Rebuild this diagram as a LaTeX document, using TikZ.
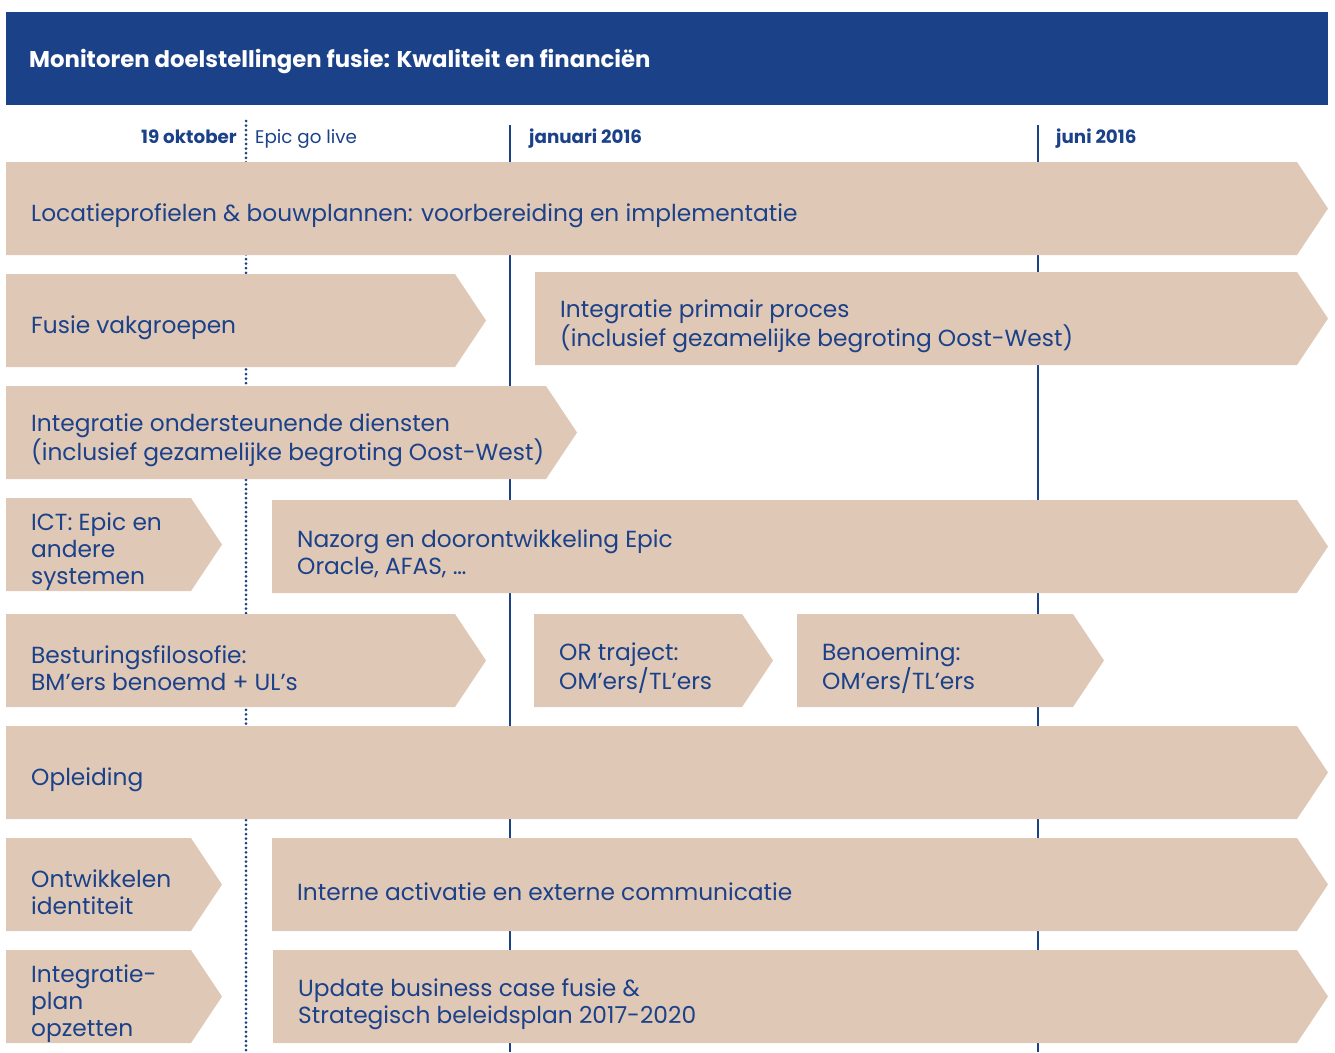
\documentclass[tikz,border=0pt]{standalone}
\usepackage{fontspec}
\setmainfont{Poppins}
\definecolor{navy}{HTML}{1B4189}
\definecolor{sand}{HTML}{E0C8B7}
\newcommand\stagebar[5]{%
  \fill[sand] (#2,#4) -- (#3-31,#4) -- (#3,#4+46.5) -- (#3-31,#4+93) -- (#2,#4+93) -- cycle;
  \node[lbl] (#1) at (#2+25,#4+54) {#5};
}
\tikzset{
  lbl/.style={anchor=west, inner sep=0pt, align=left, text=navy,
    font=\fontsize{23.3}{27}\selectfont},
  datelbl/.style={inner sep=0pt, text=navy, font=\fontsize{18.3}{21}\selectfont},
  datebold/.style={datelbl, font=\fontsize{18.3}{21}\selectfont\bfseries},
  milestone/.style={draw=navy, line width=2.6pt},
  golive/.style={draw=navy, line width=3pt, line cap=round, dash pattern=on 0pt off 4.6pt}
}
\begin{document}
\begin{tikzpicture}[x=1pt,y=-1pt]
\useasboundingbox (0,0) rectangle (1335,1052);
% header band
\fill[navy] (6,12) rectangle (1328,105);
\node[anchor=west, inner sep=0pt, text=white, font=\fontsize{22.8}{26}\selectfont\bfseries] (title) at (29,62) {Monitoren doelstellingen fusie: Kwaliteit en financiën};
% time markers
\coordinate (okt top) at (246,121);
\coordinate (okt bot) at (246,1052);
\coordinate (jan top) at (510,125);
\coordinate (jan bot) at (510,1052);
\coordinate (jun top) at (1038,125);
\coordinate (jun bot) at (1038,1052);
\draw[golive] (okt top) -- (okt bot);
\draw[milestone] (jan top) -- (jan bot);
\draw[milestone] (jun top) -- (jun bot);
\node[datebold, anchor=base east] (d1) at (237,143.5) {19 oktober};
\node[datelbl, anchor=base west] (d1b) at (255,143.5) {Epic go live};
\node[datebold, anchor=base west] (d2) at (529,143.5) {januari 2016};
\node[datebold, anchor=base west] (d3) at (1056,143.5) {juni 2016};
% rows
\stagebar{loc}{6}{1328}{162}{Locatieprofielen \& bouwplannen: voorbereiding en implementatie}
\stagebar{vak}{6}{486}{274}{Fusie vakgroepen}
\stagebar{prim}{535}{1328}{272}{Integratie primair proces\\(inclusief gezamelijke begroting Oost-West)}
\stagebar{ond}{6}{577}{386}{Integratie ondersteunende diensten\\(inclusief gezamelijke begroting Oost-West)}
\stagebar{ict}{6}{222}{498}{ICT: Epic en\\andere\\systemen}
\stagebar{naz}{272}{1328}{500}{Nazorg en doorontwikkeling Epic\\Oracle, AFAS, …}
\stagebar{best}{6}{486}{614}{Besturingsfilosofie:\\BM’ers benoemd + UL’s}
\stagebar{ort}{534}{773}{614}{OR traject:\\OM’ers/TL’ers}
\stagebar{ben}{797}{1104}{614}{Benoeming:\\OM’ers/TL’ers}
\stagebar{opl}{6}{1328}{726}{Opleiding}
\stagebar{ident}{6}{222}{838}{Ontwikkelen\\identiteit}
\stagebar{comm}{272}{1328}{838}{Interne activatie en externe communicatie}
\stagebar{plan}{6}{222}{950}{Integratie-\\plan\\opzetten}
\stagebar{upd}{273}{1328}{950}{Update business case fusie \&\\Strategisch beleidsplan 2017-2020}
\end{tikzpicture}
\end{document}
